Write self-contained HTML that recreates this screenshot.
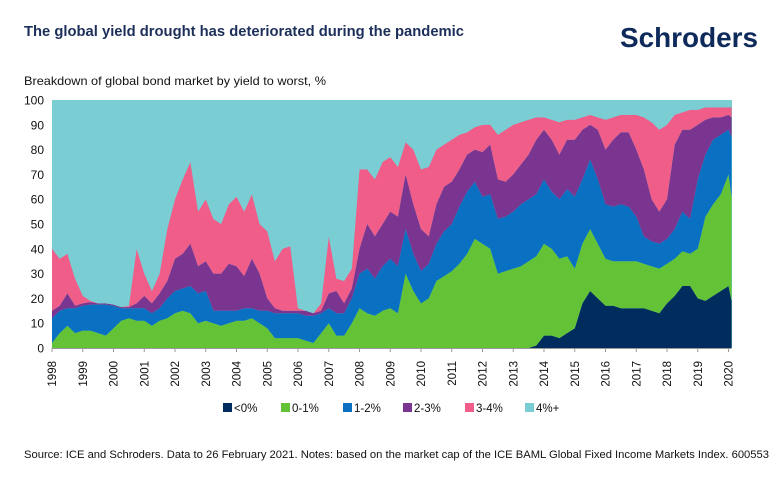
<!DOCTYPE html>
<html><head><meta charset="utf-8"><style>
body{margin:0;background:#fff;width:770px;height:475px;overflow:hidden;font-family:"Liberation Sans",sans-serif}
</style></head><body>
<svg width="770" height="475" viewBox="0 0 770 475" xmlns="http://www.w3.org/2000/svg">
<text x="24" y="36" font-size="14.5" font-weight="bold" fill="#1c2e5a" textLength="440" lengthAdjust="spacingAndGlyphs">The global yield drought has deteriorated during the pandemic</text>
<text x="620" y="47" font-size="28" font-weight="bold" fill="#0e2a5a" textLength="138" lengthAdjust="spacingAndGlyphs">Schroders</text>
<text x="24" y="85" font-size="12" fill="#111" textLength="302" lengthAdjust="spacingAndGlyphs">Breakdown of global bond market by yield to worst, %</text>
<rect x="52" y="100" width="680" height="248" fill="#7acdd3"/>
<g id="plot"></g>
<g id="yax"></g>
<g id="xax"></g>
<g id="legend"></g>
<text x="24" y="458" font-size="11" fill="#111" textLength="745" lengthAdjust="spacingAndGlyphs">Source: ICE and Schroders. Data to 26 February 2021. Notes: based on the market cap of the ICE BAML Global Fixed Income Markets Index. 600553</text>
</svg>
<script>
const times = [];
for (let i = 0; i <= 88; i++) times.push(1998 + i * 0.25);
times.push(2020.1);
const seriesNames = ["<0%","0-1%","1-2%","2-3%","3-4%","4%+"];
const seriesColors = ["#002d5e","#64c236","#0a70c2","#7a3591","#ef5d88","#7acdd3"];
const neg = [0,0,0,0,0,0,0,0,0,0,0,0,0,0,0,0,0,0,0,0,0,0,0,0,0,0,0,0,0,0,0,0,0,0,0,0,0,0,0,0,0,0,0,0,0,0,0,0,0,0,0,0,0,0,0,0,0,0,0,0,0,0,0,1,5,5,4,6,8,18,23,20,17,17,16,16,16,16,15,14,18,21,25,25,20,19,21,23,25,19];
const y01 = [2,6,9,6,7,7,6,5,8,11,12,11,11,9,11,12,14,15,14,10,11,10,9,10,11,11,12,10,8,4,4,4,4,3,2,6,10,5,5,10,16,14,13,15,16,14,30,23,18,20,27,29,31,34,38,44,42,40,30,31,32,33,35,36,37,35,32,31,24,24,25,22,19,18,19,19,19,18,18,18,16,15,14,13,20,34,37,39,45,42];
const y12 = [10,9,7,10,10,10.5,11.5,12.5,9,5,4,5,5,5,5,8,9,9,11,12,12,5,6,5,4,5,4,5,7,10,10,10,10,10,11,8,6,9,9,10,14,18,15,18,20,19,18,15,13,14,15,18,19,23,25,23,19,22,22,22,23,25,25,25,26,23,24,27,29,26,28,26,22,22,23,22,18,11,10,10,10,12,16,14,28,25,26,24,18,24];
const y23 = [3,2,6,1,1,1,0.5,0.5,0.5,0.5,0.5,2,5,4,6,7,13,14,17,11,12,15,15,19,18,13,20,15,5,2,1,1,1,2,1,1,6,9,4,4,10,18,17,17,19,20,22,20,17,11,16,18,17,15,15,13,18,20,16,14,15,16,18,22,20,21,18,20,23,20,14,20,22,27,29,30,27,27,17,13,16,34,33,36,22,14,9,7,6,8];
const y34 = [25,19,16,11,3,0.5,0,0,0,0,0.5,22,9,5,8,21,24,30,33,22,25,22,20,24,28,26,26,20,27,19,25,26,1,0,0,3,23,5,9,8,32,22,23,25,22,20,13,22,24,28,22,17,17,14,9,9,11,8,18,21,20,17,14,9,5,8,13,8,8,5,4,5,12,9,7,7,14,21,31,33,30,12,7,8,6,5,4,4,3,4];
const y4p = [60,64,62,72,79,81,82,82,82.5,83.5,83,60,70,77,70,52,40,32,25,45,40,48,50,42,39,45,38,50,53,65,60,59,84,85,86,82,55,72,73,68,28,28,32,25,23,27,17,20,28,27,20,18,16,14,13,11,10,10,14,12,10,9,8,7,7,8,9,8,8,7,6,7,8,7,6,6,6,7,9,12,10,6,5,4,4,3,3,3,3,3];
const yTicks = [0,10,20,30,40,50,60,70,80,90,100];
const xTicks = [1998,1999,2000,2001,2002,2003,2004,2005,2006,2007,2008,2009,2010,2011,2012,2013,2014,2015,2016,2017,2018,2019,2020];

const NS = "http://www.w3.org/2000/svg";
const X0 = 52, PXY = 30.75, Y0 = 348, PXP = 2.48;
const xs = t => X0 + (t - 1998) * PXY;
const ys = v => Y0 - v * PXP;
function mk(tag, attrs, parent){const e=document.createElementNS(NS,tag);for(const k in attrs)e.setAttribute(k,attrs[k]);parent.appendChild(e);return e;}

const plot = document.getElementById('plot');
const series = [neg,y01,y12,y23,y34,y4p];
const layerNames = ['area-below-0','area-0-1','area-1-2','area-2-3','area-3-4','area-4-plus'];
let base = times.map(()=>0);
series.forEach((vals, si) => {
  const top = base.map((b,i)=>b+vals[i]);
  let d = '';
  times.forEach((t,i)=>{ d += (i?'L':'M') + xs(t).toFixed(1) + ',' + ys(Math.min(top[i],100)).toFixed(1); });
  for (let i = times.length-1; i >= 0; i--) d += 'L' + xs(times[i]).toFixed(1) + ',' + ys(Math.min(base[i],100)).toFixed(1);
  d += 'Z';
  const p = mk('path', {d:d, fill:seriesColors[si]}, plot);
  
  
  base = top;
});

const yax = document.getElementById('yax');
yTicks.forEach(v=>{
  const t = mk('text',{x:44,y:ys(v)+4.5,'font-size':12,'text-anchor':'end',fill:'#111'},yax);
  t.textContent = v;
  
  
});
const xax = document.getElementById('xax');
mk('line',{x1:X0,y1:Y0+0.5,x2:xs(times[times.length-1]),y2:Y0+0.5,stroke:'#999','stroke-width':1},xax);
xTicks.forEach(v=>{
  const x = xs(v);
  mk('line',{x1:x,y1:Y0,x2:x,y2:Y0+4,stroke:'#999','stroke-width':1},xax);
  const t = mk('text',{x:0,y:0,'font-size':11.5,'text-anchor':'end',fill:'#111',transform:`translate(${x+4},${361}) rotate(-90)`},xax);
  t.textContent = v;
  
  
});
const legend = document.getElementById('legend');
const legX = [223,281,343,403,465,525];
seriesNames.forEach((n,i)=>{
  const r = mk('rect',{x:legX[i],y:403,width:9,height:9,fill:seriesColors[i]},legend);
  
  
  const t = mk('text',{x:legX[i]+11,y:412,'font-size':11.5,fill:'#111'},legend);
  t.textContent = n;
  
  
});
</script>
</body></html>
